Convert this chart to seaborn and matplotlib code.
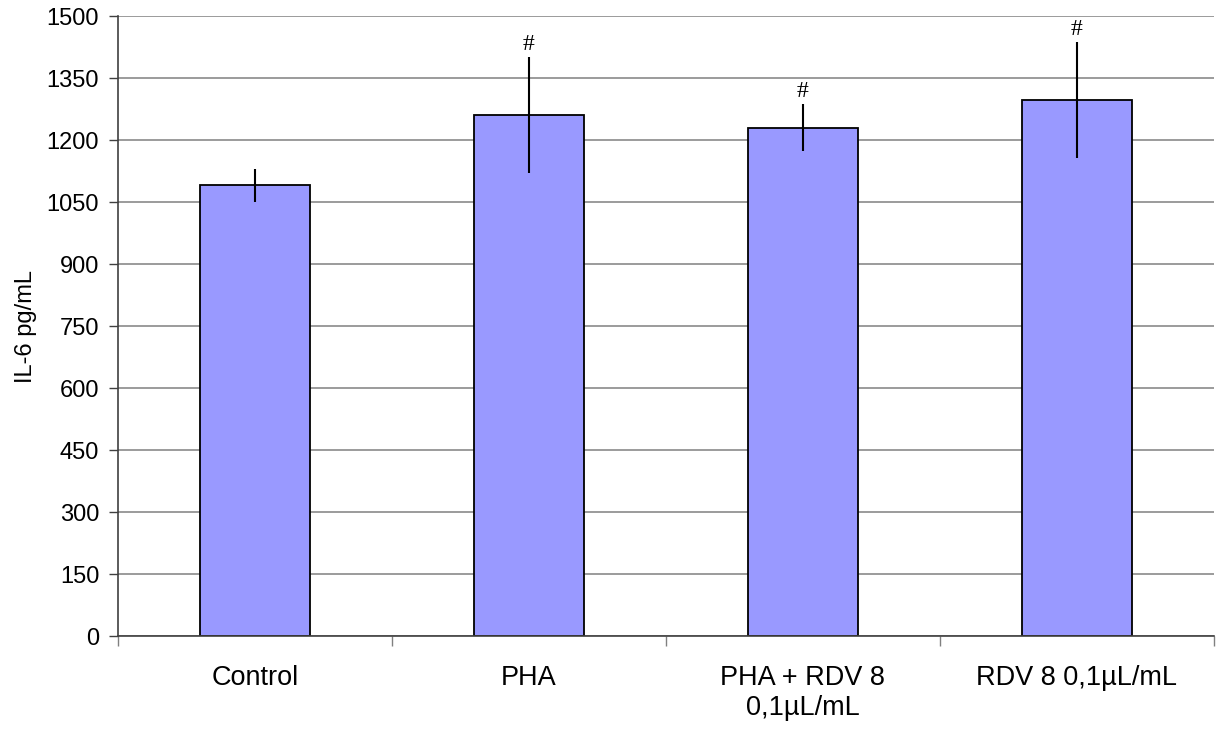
import pandas as pd
import seaborn as sns
import matplotlib.pyplot as plt
from matplotlib.ticker import FixedLocator


groups=["Control","PHA","PHA + RDV 8\n0,1µL/mL","RDV 8 0,1µL/mL"]
il6_mean=[1090,1260,1230,1296]
il6_err=[41,140,57,140]
marks=["","#","#","#"]
y_ticks=[0,150,300,450,600,750,900,1050,1200,1350,1500]


def main():
    sns.set_style("white")
    plt.rcParams["font.family"]=["Liberation Sans","DejaVu Sans"]
    plt.rcParams["text.color"]="black"
    plt.rcParams["axes.labelcolor"]="black"
    plt.rcParams["xtick.labelcolor"]="black"
    plt.rcParams["ytick.labelcolor"]="black"

    data=pd.DataFrame({"group":groups,"il6":il6_mean})

    fig=plt.figure(figsize=(12.2,7.32),dpi=100)
    ax=fig.add_axes([0.0967,0.1311,0.8983,0.8470])

    ax.set_yticks(y_ticks)
    ax.grid(axis="y",color="#808080",linewidth=1.1,zorder=0)
    ax.set_axisbelow(True)

    sns.barplot(data=data,x="group",y="il6",color="#9999FF",saturation=1,
                width=0.4,edgecolor="black",linewidth=1.3,errorbar=None,ax=ax,zorder=2)

    xs=range(len(groups))
    ax.errorbar(list(xs),il6_mean,yerr=il6_err,fmt="none",ecolor="black",
                elinewidth=1.5,capsize=0,zorder=3)

    for x,m,e,s in zip(xs,il6_mean,il6_err,marks):
        if s:
            ax.text(x,m+e+6,s,ha="center",va="bottom",fontsize=17,color="black",
                    family=["Liberation Serif","DejaVu Serif"],
                    bbox=dict(facecolor="white",edgecolor="none",pad=0.5),zorder=4)

    ax.set_ylim(0,1500)
    ax.set_xlim(-0.5,3.5)
    ax.set_xlabel("")
    ax.set_ylabel("IL-6 pg/mL",fontsize=17,labelpad=7)

    ax.tick_params(axis="y",which="major",direction="out",length=6.5,width=1,
                   color="#404040",labelsize=17,pad=7,left=True)
    ax.tick_params(axis="x",which="major",length=0,labelsize=19.5,pad=21)
    ax.xaxis.set_minor_locator(FixedLocator([-0.5,0.5,1.5,2.5,3.5]))
    ax.tick_params(axis="x",which="minor",direction="out",length=7,width=1,
                   color="#808080",bottom=True)

    sns.despine(ax=ax,top=True,right=True)
    ax.spines["left"].set_color("#404040")
    ax.spines["bottom"].set_color("#404040")
    ax.spines["left"].set_linewidth(1.2)
    ax.spines["bottom"].set_linewidth(1.2)

    fig.savefig("out.png",dpi=100)
    plt.close(fig)


if __name__=="__main__":
    main()
